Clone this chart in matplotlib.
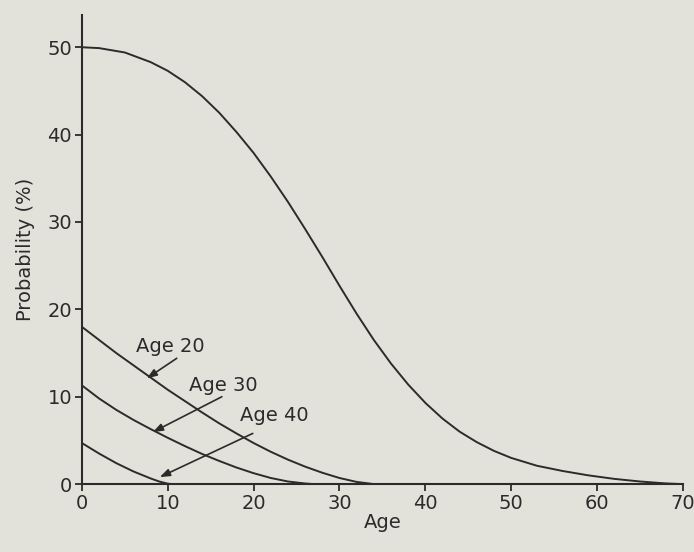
import numpy as np
import matplotlib.pyplot as plt

# probabilita' (%) in funzione dell'eta'
age_all = [0, 2, 5, 8, 10, 12, 14, 16, 18, 20, 22, 24, 26, 28, 30, 32, 34, 36,
           38, 40, 42, 44, 46, 48, 50, 53, 56, 59, 62, 65, 68, 70]
prob_all = [50, 49.9, 49.4, 48.3, 47.3, 46.0, 44.4, 42.5, 40.3, 37.9, 35.2, 32.3,
            29.2, 26.0, 22.7, 19.5, 16.5, 13.8, 11.4, 9.3, 7.5, 6.0, 4.8, 3.8,
            3.0, 2.1, 1.5, 1.0, 0.6, 0.3, 0.08, 0.0]

age_20 = [0, 2, 4, 6, 8, 10, 12, 14, 16, 18, 20, 22, 24, 26, 28, 30, 32, 34]
prob_20 = [18.0, 16.5, 15.0, 13.6, 12.2, 10.8, 9.5, 8.2, 6.95, 5.8, 4.7, 3.7,
           2.8, 2.0, 1.3, 0.7, 0.25, 0.0]

age_30 = [0, 2, 4, 6, 8, 10, 12, 14, 16, 18, 20, 22, 24, 26, 27]
prob_30 = [11.3, 9.8, 8.5, 7.35, 6.3, 5.3, 4.35, 3.45, 2.65, 1.9, 1.25, 0.7,
           0.3, 0.07, 0.0]

age_40 = [0, 2, 4, 6, 8, 9, 10, 10.5]
prob_40 = [4.7, 3.5, 2.4, 1.45, 0.65, 0.3, 0.05, 0.0]

# etichette: testo (x, y), coda e punta della freccia
labels = ["Age 20", "Age 30", "Age 40"]
text_xy = [(10.35, 15.7), (16.5, 11.3), (22.4, 7.9)]
tail_xy = [(11.05, 14.4), (16.3, 10.0), (19.9, 5.8)]
head_xy = [(7.56, 12.1), (8.26, 5.95), (9.07, 0.8)]

bg = "#e3e2da"
ink = "#2b2b2b"

fig = plt.figure(figsize=(6.94, 5.52), dpi=100, facecolor=bg)
ax = fig.add_axes([0.118, 0.123, 0.866, 0.850], facecolor=bg)

for xs, ys in [(age_all, prob_all), (age_20, prob_20), (age_30, prob_30), (age_40, prob_40)]:
    ax.plot(xs, ys, color=ink, lw=1.4, solid_capstyle="round", solid_joinstyle="round")

for lab, t, a, h in zip(labels, text_xy, tail_xy, head_xy):
    ax.text(t[0], t[1], lab, fontsize=14, color=ink, ha="center", va="center")
    ax.annotate("", xy=h, xytext=a,
                arrowprops=dict(arrowstyle="-|>,head_length=0.6,head_width=0.22",
                                color=ink, lw=1.2, shrinkA=0, shrinkB=0))

ax.set_xlim(0, 70)
ax.set_ylim(0, 53.7)
ax.set_xticks(np.arange(0, 71, 10))
ax.set_yticks(np.arange(0, 51, 10))
for side in ("top", "right"):
    ax.spines[side].set_visible(False)
for side in ("left", "bottom"):
    ax.spines[side].set_color(ink)
    ax.spines[side].set_linewidth(1.5)
ax.tick_params(direction="out", length=5, width=1.3, color=ink,
               labelsize=14, labelcolor=ink, pad=2)
ax.set_xlabel("Age", fontsize=14, color=ink, labelpad=0)
ax.set_ylabel("Probability (%)", fontsize=14, color=ink, labelpad=9)

fig.savefig("out.png", dpi=100, facecolor=bg)
